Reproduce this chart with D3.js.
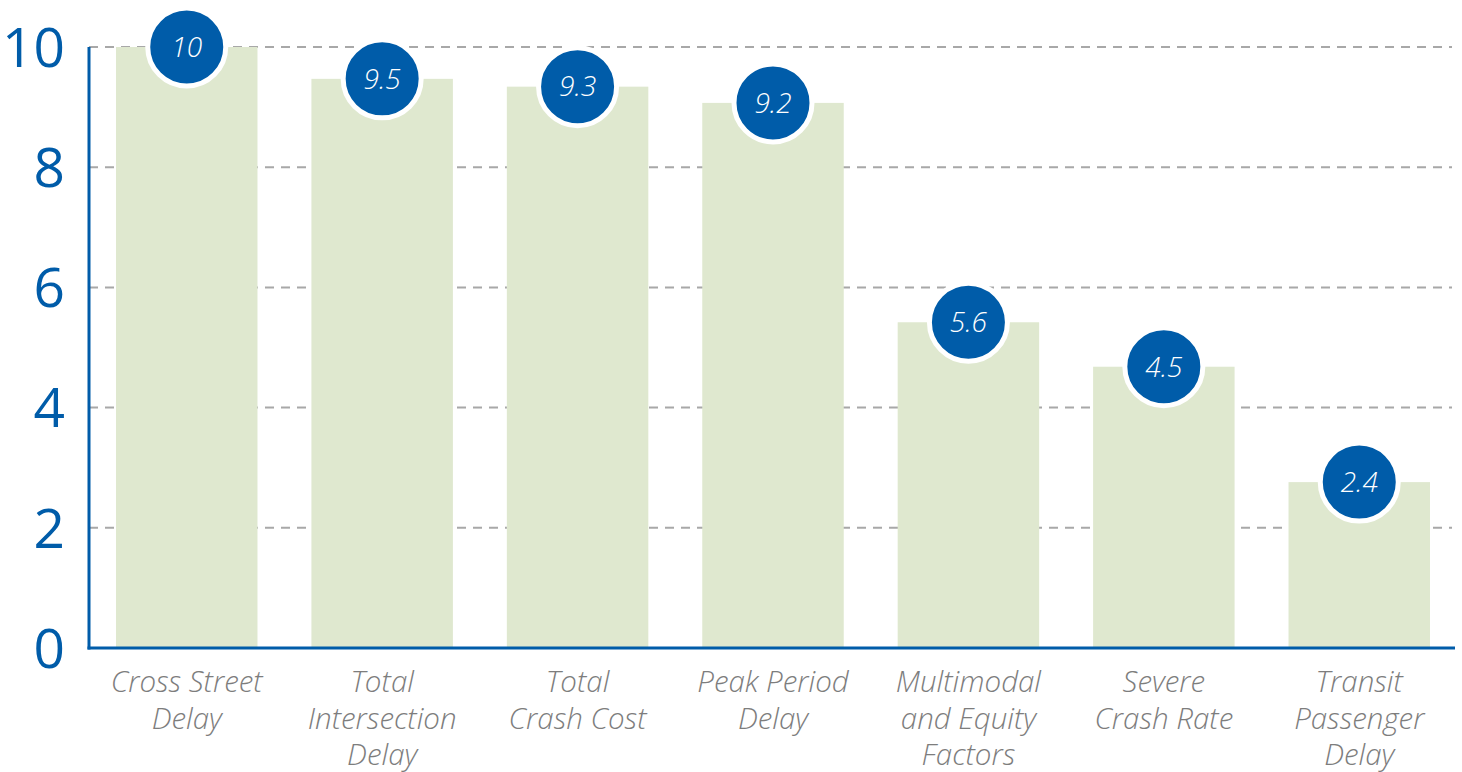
<!DOCTYPE html>
<html>
<head>
<meta charset="utf-8">
<script src="https://cdn.jsdelivr.net/npm/d3@7"></script>
<style>
  html, body { margin: 0; padding: 0; background: #ffffff; }
  svg { display: block; }
</style>
</head>
<body>
<svg id="chart" width="1462" height="772"></svg>
<script>
// ---- data ----
const categories = [
  "Cross Street Delay",
  "Total Intersection Delay",
  "Total Crash Cost",
  "Peak Period Delay",
  "Multimodal and Equity Factors",
  "Severe Crash Rate",
  "Transit Passenger Delay"
];
const labelLines = [
  ["Cross Street", "Delay"],
  ["Total", "Intersection", "Delay"],
  ["Total", "Crash Cost"],
  ["Peak Period", "Delay"],
  ["Multimodal", "and Equity", "Factors"],
  ["Severe", "Crash Rate"],
  ["Transit", "Passenger", "Delay"]
];
const barValues = [10, 9.47, 9.34, 9.07, 5.42, 4.68, 2.76];
const badgeLabels = ["10", "9.5", "9.3", "9.2", "5.6", "4.5", "2.4"];
const yTicks = [0, 2, 4, 6, 8, 10];

// ---- layout ----
const svg = d3.select("#chart");
const BLUE = "#005ca9";
const GREEN = "#dfe8cf";
const GREY_TXT = "#7d7d7d";
const GRID = "#a8a8a8";
const FONT = "'Open Sans', 'Noto Sans', sans-serif";

const axisX = 89, axisRight = 1455;
const y = d3.scaleLinear().domain([0, 10]).range([648, 47]);
const x = d3.scaleBand().domain(categories).range([116, 1430]).paddingInner(0.276).paddingOuter(0);

// gridlines
svg.append("g").selectAll("line")
  .data(yTicks.filter(d => d > 0))
  .join("line")
  .attr("x1", axisX).attr("x2", 1452)
  .attr("y1", d => y(d)).attr("y2", d => y(d))
  .attr("stroke", GRID).attr("stroke-width", 2)
  .attr("stroke-dasharray", "9,7");

// bars
svg.append("g").selectAll("rect")
  .data(categories)
  .join("rect")
  .attr("x", d => x(d))
  .attr("width", x.bandwidth())
  .attr("y", (d, i) => y(barValues[i]))
  .attr("height", (d, i) => y(0) - y(barValues[i]))
  .attr("fill", GREEN);

// axis lines
svg.append("line")
  .attr("x1", axisX).attr("x2", axisX)
  .attr("y1", y(10)).attr("y2", y(0) + 1.5)
  .attr("stroke", BLUE).attr("stroke-width", 3);
svg.append("line")
  .attr("x1", axisX - 1.5).attr("x2", axisRight)
  .attr("y1", y(0)).attr("y2", y(0))
  .attr("stroke", BLUE).attr("stroke-width", 3);

// y axis labels
const yAxis = d3.axisLeft(y).tickValues(yTicks).tickSize(0).tickPadding(24).tickFormat(d3.format("d"));
const yg = svg.append("g").attr("transform", `translate(${axisX},0)`).call(yAxis);
yg.select(".domain").remove();
yg.selectAll("text")
  .attr("fill", BLUE)
  .attr("font-family", FONT)
  .attr("font-size", 55)
  .attr("font-weight", 400)
  .attr("dy", "0.35em");

// badges
const badges = svg.append("g").selectAll("g")
  .data(categories)
  .join("g")
  .attr("transform", (d, i) => `translate(${x(d) + x.bandwidth() / 2},${y(barValues[i])})`);
badges.append("circle")
  .attr("r", 39)
  .attr("fill", BLUE)
  .attr("stroke", "#ffffff")
  .attr("stroke-width", 5);
badges.append("text")
  .attr("text-anchor", "middle")
  .attr("dy", "0.35em")
  .attr("fill", "#ffffff")
  .attr("font-family", FONT)
  .attr("font-style", "italic")
  .attr("font-weight", 300)
  .attr("font-size", 28)
  .text((d, i) => badgeLabels[i]);

// x labels
const xl = svg.append("g").selectAll("text")
  .data(categories)
  .join("text")
  .attr("text-anchor", "middle")
  .attr("fill", GREY_TXT)
  .attr("font-family", FONT)
  .attr("font-style", "italic")
  .attr("font-weight", 300)
  .attr("font-size", 29.5)
  .attr("transform", d => `translate(${x(d) + x.bandwidth() / 2},692)`);
xl.selectAll("tspan")
  .data((d, i) => labelLines[i])
  .join("tspan")
  .attr("x", 0)
  .attr("y", (d, i) => i * 36.5)
  .text(d => d);
</script>
</body>
</html>
